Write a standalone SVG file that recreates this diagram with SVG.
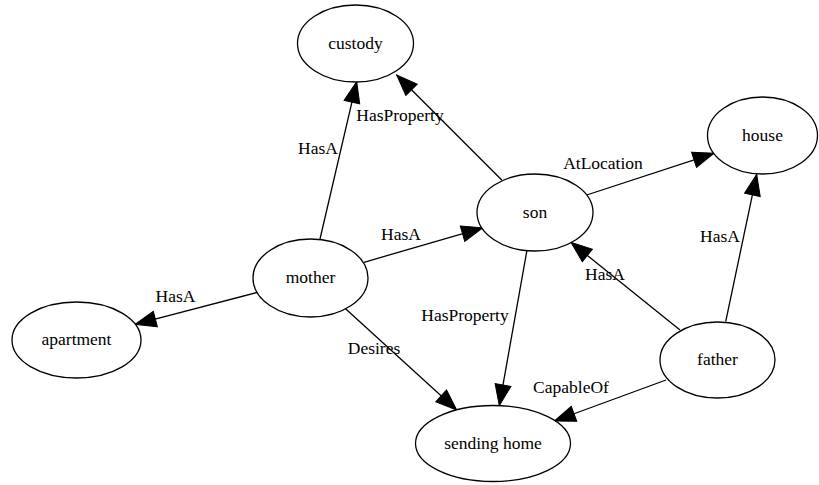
<svg xmlns="http://www.w3.org/2000/svg" width="819" height="485" viewBox="0 0 819 485">
<style>
.n ellipse{fill:#fff;stroke:#000;stroke-width:1.3}
text{font-family:'Liberation Serif','Times New Roman',serif;font-size:17.5px;fill:#000;text-anchor:middle}
.e line{stroke:#000;stroke-width:1.3;marker-end:url(#ah)}
</style>
<defs>
<marker id="ah" markerUnits="userSpaceOnUse" markerWidth="21" markerHeight="16" refX="21" refY="8" orient="auto" overflow="visible">
<path d="M0,0 L21,8 L0,16 z" fill="#000" stroke="#000"/>
</marker>
</defs>
<rect width="819" height="485" fill="#fff"/>
<g id="edges" class="e">
<line x1="320" y1="239" x2="356.7" y2="81.7"/>
<line x1="501.7" y1="180" x2="396.7" y2="75"/>
<line x1="586.7" y1="195" x2="714" y2="153.3"/>
<line x1="364" y1="262.3" x2="482.7" y2="227.8"/>
<line x1="260" y1="291.7" x2="135" y2="324.3"/>
<line x1="345" y1="308.3" x2="456.7" y2="410"/>
<line x1="527" y1="250" x2="499.3" y2="405.7"/>
<line x1="680" y1="330" x2="571" y2="242.3"/>
<line x1="725.7" y1="321.7" x2="756.7" y2="174.3"/>
<line x1="666" y1="380" x2="554.3" y2="421"/>
<text x="318" y="154">HasA</text>
<text x="400" y="121">HasProperty</text>
<text x="603" y="169">AtLocation</text>
<text x="401" y="240">HasA</text>
<text x="175.5" y="302">HasA</text>
<text x="374" y="354">Desires</text>
<text x="465" y="321">HasProperty</text>
<text x="605" y="280">HasA</text>
<text x="720" y="242">HasA</text>
<text x="571" y="393">CapableOf</text>
</g>
<g id="custody" class="n"><ellipse cx="355.5" cy="43.5" rx="58" ry="38.5"/><text x="355.5" y="48.5">custody</text></g>
<g id="house" class="n"><ellipse cx="762.5" cy="135.5" rx="55" ry="38.5"/><text x="762.5" y="140.5">house</text></g>
<g id="son" class="n"><ellipse cx="535" cy="212.5" rx="58" ry="38.5"/><text x="535" y="217.5">son</text></g>
<g id="mother" class="n"><ellipse cx="310.5" cy="278" rx="57.5" ry="39"/><text x="310.5" y="283">mother</text></g>
<g id="apartment" class="n"><ellipse cx="76.5" cy="340" rx="64.5" ry="38"/><text x="76.5" y="345">apartment</text></g>
<g id="father" class="n"><ellipse cx="717.5" cy="360" rx="57.5" ry="38"/><text x="717.5" y="365">father</text></g>
<g id="sending_home" class="n"><ellipse cx="493" cy="443.5" rx="77.5" ry="38"/><text x="493" y="448.5">sending home</text></g>
</svg>
